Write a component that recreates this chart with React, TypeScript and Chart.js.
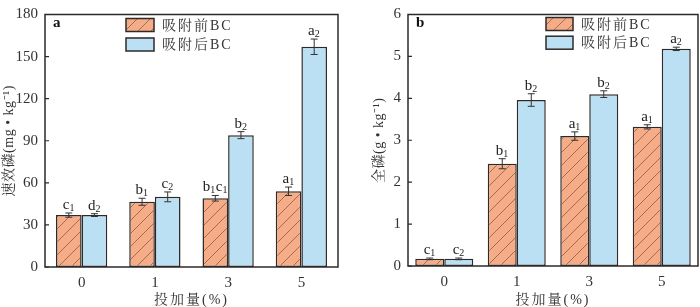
import React, { useEffect, useRef } from "react";
import { Chart, registerables } from "chart.js";
Chart.register(...registerables);

const categories = ["0", "1", "3", "5"];
const seriesNames = ["吸附前BC", "吸附后BC"];

const availBefore = [37, 46.5, 49, 54];
const availBeforeErr = [1.5, 2.5, 2, 3];
const availAfter = [37, 50, 94, 157];
const availAfterErr = [1, 3.5, 2.5, 5.5];
const availBeforeLabels = ["c1", "b1", "b1c1", "a1"];
const availAfterLabels = ["d2", "c2", "b2", "a2"];

const totalBefore = [0.17, 2.44, 3.1, 3.32];
const totalBeforeErr = [0.02, 0.12, 0.1, 0.05];
const totalAfter = [0.17, 3.96, 4.1, 5.18];
const totalAfterErr = [0.02, 0.15, 0.08, 0.04];
const totalBeforeLabels = ["c1", "b1", "a1", "a1"];
const totalAfterLabels = ["c2", "b2", "b2", "a2"];

const availMax = 180;
const availStep = 30;
const totalMax = 6;
const totalStep = 1;

const xTitle = "投加量(%)";
const availTitle = "速效磷(mg • kg⁻¹)";
const totalTitle = "全磷(g • kg⁻¹)";

const SERIF = "'Liberation Serif', 'Noto Serif CJK SC', 'Noto Sans CJK SC', serif";
const ORANGE = "#F6AC86";
const BLUE = "#BBDFF3";
const DARK = "#2e2a2a";

function makeHatch(): CanvasPattern | string {
  const s = 13;
  const c = document.createElement("canvas");
  c.width = s;
  c.height = s;
  const g = c.getContext("2d");
  if (!g) return ORANGE;
  g.fillStyle = ORANGE;
  g.fillRect(0, 0, s, s);
  g.strokeStyle = "#86604f";
  g.lineWidth = 0.8;
  g.beginPath();
  g.moveTo(0, s);
  g.lineTo(s, 0);
  g.moveTo(-2, 2);
  g.lineTo(2, -2);
  g.moveTo(s - 2, s + 2);
  g.lineTo(s + 2, s - 2);
  g.stroke();
  return g.createPattern(c, "repeat") || ORANGE;
}

function drawSubLabel(ctx: CanvasRenderingContext2D, label: string, cx: number, yBase: number) {
  const parts: [string, string][] = [];
  for (let i = 0; i < label.length; i += 2) parts.push([label[i], label[i + 1] || ""]);
  const big = `15px ${SERIF}`;
  const small = `10px ${SERIF}`;
  let total = 0;
  const widths = parts.map(([l, s]) => {
    ctx.font = big;
    const w1 = ctx.measureText(l).width;
    ctx.font = small;
    const w2 = ctx.measureText(s).width;
    total += w1 + w2 + 0.5;
    return [w1, w2];
  });
  let x = cx - total / 2;
  ctx.fillStyle = "#222";
  ctx.textAlign = "left";
  ctx.textBaseline = "alphabetic";
  parts.forEach(([l, s], i) => {
    ctx.font = big;
    ctx.fillText(l, x, yBase - 1.5);
    x += widths[i][0];
    ctx.font = small;
    ctx.fillText(s, x, yBase + 0.5);
    x += widths[i][1] + 0.5;
  });
}

const decorPlugin = {
  id: "decor",
  afterDatasetsDraw(chart: any, _args: any, opts: any) {
    const ctx: CanvasRenderingContext2D = chart.ctx;
    const a = chart.chartArea;
    const ys = chart.scales.y;
    ctx.save();
    chart.data.datasets.forEach((ds: any, di: number) => {
      const meta = chart.getDatasetMeta(di);
      meta.data.forEach((bar: any, i: number) => {
        const v = ds.data[i];
        const e = opts.errors[di][i];
        const yt = ys.getPixelForValue(v + e);
        const yb = ys.getPixelForValue(v - e);
        ctx.strokeStyle = "#333";
        ctx.lineWidth = 1;
        ctx.beginPath();
        ctx.moveTo(bar.x, yt);
        ctx.lineTo(bar.x, yb);
        ctx.moveTo(bar.x - 3.5, yt);
        ctx.lineTo(bar.x + 3.5, yt);
        ctx.moveTo(bar.x - 3.5, yb);
        ctx.lineTo(bar.x + 3.5, yb);
        ctx.stroke();
        drawSubLabel(ctx, opts.labels[di][i], bar.x, yt - 2.5);
      });
    });
    ctx.strokeStyle = DARK;
    ctx.lineWidth = 1.5;
    ctx.strokeRect(a.left, a.top, a.right - a.left, a.bottom - a.top);
    ctx.lineWidth = 1.2;
    ctx.beginPath();
    ys.ticks.forEach((t: any) => {
      const py = ys.getPixelForValue(t.value);
      ctx.moveTo(a.left, py);
      ctx.lineTo(a.left + 4, py);
    });
    ctx.stroke();
    ctx.fillStyle = "#111";
    ctx.font = `bold 15px ${SERIF}`;
    ctx.textAlign = "left";
    ctx.textBaseline = "middle";
    ctx.fillText(opts.panel, a.left + opts.panelDx, a.top + 9);
    const lg = opts.legend;
    chart.data.datasets.forEach((ds: any, di: number) => {
      const by = a.top + lg.dy + di * lg.gap;
      ctx.fillStyle = ds.backgroundColor;
      ctx.fillRect(a.left + lg.dx, by, lg.w, lg.h);
      ctx.strokeStyle = DARK;
      ctx.lineWidth = 1.5;
      ctx.strokeRect(a.left + lg.dx, by, lg.w, lg.h);
      ctx.fillStyle = "#333";
      ctx.font = `14px ${SERIF}`;
      (ctx as any).letterSpacing = "2px";
      ctx.textBaseline = "middle";
      ctx.fillText(ds.label, a.left + lg.dx + lg.w + 8, by + lg.h / 2 + 1);
      (ctx as any).letterSpacing = "0px";
    });
    ctx.fillStyle = "#333";
    ctx.font = `14px ${SERIF}`;
    ctx.textAlign = "center";
    ctx.textBaseline = "middle";
    (ctx as any).letterSpacing = "2px";
    ctx.fillText(opts.xTitle, (a.left + a.right) / 2, 300);
    (ctx as any).letterSpacing = "0.5px";
    ctx.save();
    ctx.translate(opts.yTitleX, (a.top + a.bottom) / 2);
    ctx.rotate(-Math.PI / 2);
    ctx.fillText(opts.yTitle, 0, 0);
    ctx.restore();
    (ctx as any).letterSpacing = "0px";
    ctx.restore();
  },
};

type PanelProps = {
  before: number[];
  after: number[];
  beforeErr: number[];
  afterErr: number[];
  beforeLabels: string[];
  afterLabels: string[];
  max: number;
  step: number;
  catPct: number;
  area: { left: number; right: number; top: number; bottom: number };
  yTitle: string;
  yTitleX: number;
  panel: string;
  panelDx: number;
  legend: { dx: number; dy: number; w: number; h: number; gap: number };
};

function Panel(p: PanelProps) {
  const ref = useRef<HTMLCanvasElement>(null);
  useEffect(() => {
    if (!ref.current) return;
    const W = 350;
    const H = 307;
    const hatch = makeHatch();
    const chart = new Chart(ref.current, {
      type: "bar",
      data: {
        labels: categories,
        datasets: [
          {
            label: seriesNames[0],
            data: p.before,
            backgroundColor: hatch as any,
            borderColor: DARK,
            borderWidth: 1.5,
            borderSkipped: false,
            categoryPercentage: p.catPct,
            barPercentage: 1,
          },
          {
            label: seriesNames[1],
            data: p.after,
            backgroundColor: BLUE,
            borderColor: DARK,
            borderWidth: 1.5,
            borderSkipped: false,
            categoryPercentage: p.catPct,
            barPercentage: 1,
          },
        ],
      },
      options: {
        responsive: false,
        animation: false,
        devicePixelRatio: 1,
        layout: { padding: { left: 0, right: W - p.area.right, top: p.area.top, bottom: 0 } },
        plugins: {
          legend: { display: false },
          tooltip: { enabled: false },
          decor: {
            errors: [p.beforeErr, p.afterErr],
            labels: [p.beforeLabels, p.afterLabels],
            panel: p.panel,
            panelDx: p.panelDx,
            legend: p.legend,
            xTitle,
            yTitle: p.yTitle,
            yTitleX: p.yTitleX,
          },
        } as any,
        scales: {
          x: {
            grid: { display: false, drawTicks: false },
            border: { display: false },
            ticks: { color: "#333", font: { family: SERIF, size: 15, lineHeight: 1 }, padding: 9 },
            afterFit: (s: any) => {
              s.height = H - p.area.bottom;
            },
          },
          y: {
            min: 0,
            max: p.max,
            grid: { display: false, drawTicks: false },
            border: { display: false },
            ticks: { stepSize: p.step, color: "#333", font: { family: SERIF, size: 15, lineHeight: 1 }, padding: 7 },
            afterFit: (s: any) => {
              s.width = p.area.left;
            },
          },
        },
      },
      plugins: [decorPlugin],
    });
    return () => chart.destroy();
  }, []);
  return <canvas ref={ref} width={350} height={307} style={{ display: "block", width: 350, height: 307 }} />;
}

export default function App() {
  return (
    <div style={{ position: "absolute", left: 0, top: 0, width: 700, height: 307, background: "#fff", display: "flex" }}>
      <Panel
        before={availBefore}
        after={availAfter}
        beforeErr={availBeforeErr}
        afterErr={availAfterErr}
        beforeLabels={availBeforeLabels}
        afterLabels={availAfterLabels}
        max={availMax}
        step={availStep}
        catPct={0.7}
        area={{ left: 45, right: 338, top: 7, bottom: 267 }}
        yTitle={availTitle}
        yTitleX={9}
        panel="a"
        panelDx={8}
        legend={{ dx: 81, dy: 4, w: 28, h: 13, gap: 19.5 }}
      />
      <Panel
        before={totalBefore}
        after={totalAfter}
        beforeErr={totalBeforeErr}
        afterErr={totalAfterErr}
        beforeLabels={totalBeforeLabels}
        afterLabels={totalAfterLabels}
        max={totalMax}
        step={totalStep}
        catPct={0.8}
        area={{ left: 58, right: 348, top: 6, bottom: 266 }}
        yTitle={totalTitle}
        yTitleX={29}
        panel="b"
        panelDx={8}
        legend={{ dx: 138, dy: 3, w: 27, h: 13, gap: 18.7 }}
      />
    </div>
  );
}
